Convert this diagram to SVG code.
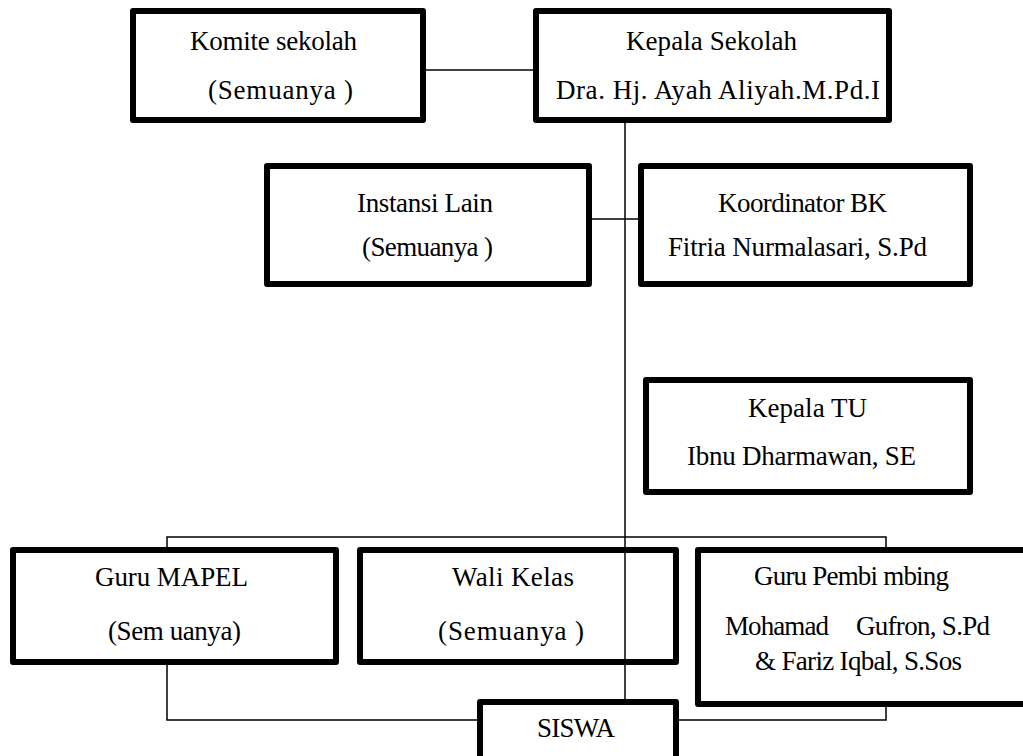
<svg xmlns="http://www.w3.org/2000/svg" width="1023" height="756" viewBox="0 0 1023 756">
<style>
.box{fill:#fff;stroke:#000;stroke-width:6;stroke-linejoin:round}
.ln{fill:none;stroke:#000;stroke-width:1.5}
text{font-family:"Liberation Serif","Times New Roman",serif;font-size:27px;fill:#000}
</style>
<rect width="1023" height="756" fill="#fff"/>
<g id="komite">
<rect class="box" x="133" y="11" width="290" height="109"/>
<text x="190" y="50" textLength="167" lengthAdjust="spacing">Komite sekolah</text>
<text x="208" y="99" textLength="145" lengthAdjust="spacing">(Semuanya )</text>
</g>
<g id="kepala-sekolah">
<rect class="box" x="536" y="11" width="353" height="109"/>
<text x="626" y="50" textLength="171" lengthAdjust="spacing">Kepala Sekolah</text>
<text x="556" y="99" textLength="324" lengthAdjust="spacing">Dra. Hj. Ayah Aliyah.M.Pd.I</text>
</g>
<g id="instansi">
<rect class="box" x="267" y="166" width="322" height="118"/>
<text x="357" y="212" textLength="136" lengthAdjust="spacing">Instansi Lain</text>
<text x="362" y="256" textLength="131" lengthAdjust="spacing">(Semuanya )</text>
</g>
<g id="koordinator-bk">
<rect class="box" x="641" y="166" width="329" height="118"/>
<text x="718" y="212" textLength="169" lengthAdjust="spacing">Koordinator BK</text>
<text x="668" y="256" textLength="259" lengthAdjust="spacing">Fitria Nurmalasari, S.Pd</text>
</g>
<g id="kepala-tu">
<rect class="box" x="646" y="380" width="324" height="112"/>
<text x="748" y="417" textLength="119" lengthAdjust="spacing">Kepala  TU</text>
<text x="687" y="465" textLength="229" lengthAdjust="spacing">Ibnu Dharmawan, SE</text>
</g>
<g id="guru-mapel">
<rect class="box" x="13" y="550" width="323" height="112"/>
<text x="95" y="586" textLength="153" lengthAdjust="spacing">Guru  MAPEL</text>
<text x="108" y="640" textLength="133" lengthAdjust="spacing">(Sem uanya)</text>
</g>
<g id="wali-kelas">
<rect class="box" x="360" y="550" width="316" height="112"/>
<text x="452" y="586" textLength="122" lengthAdjust="spacing">Wali Kelas</text>
<text x="438" y="640" textLength="146" lengthAdjust="spacing">(Semuanya )</text>
</g>
<g id="guru-pembimbing">
<rect class="box" x="698" y="550" width="360" height="154"/>
<text x="754" y="585" textLength="195" lengthAdjust="spacing">Guru  Pembi mbing</text>
<text y="635"><tspan x="725" textLength="104" lengthAdjust="spacing">Mohamad</tspan><tspan x="856" textLength="134" lengthAdjust="spacing">Gufron, S.Pd</tspan></text>
<text x="755" y="670" textLength="207" lengthAdjust="spacing">&amp; Fariz Iqbal, S.Sos</text>
</g>
<g id="siswa">
<rect class="box" x="480" y="702" width="196" height="80"/>
<text x="537" y="737" textLength="78" lengthAdjust="spacing">SISWA</text>
</g>
<g id="connectors">
<line class="ln" x1="426" y1="70" x2="533" y2="70"/>
<line class="ln" x1="625" y1="123" x2="625" y2="699"/>
<line class="ln" x1="592" y1="219" x2="638" y2="219"/>
<polyline class="ln" points="167,547 167,537 886,537 886,547"/>
<polyline class="ln" points="167,665 167,720 477,720"/>
<polyline class="ln" points="679,720 886,720 886,707"/>
</g>
</svg>
